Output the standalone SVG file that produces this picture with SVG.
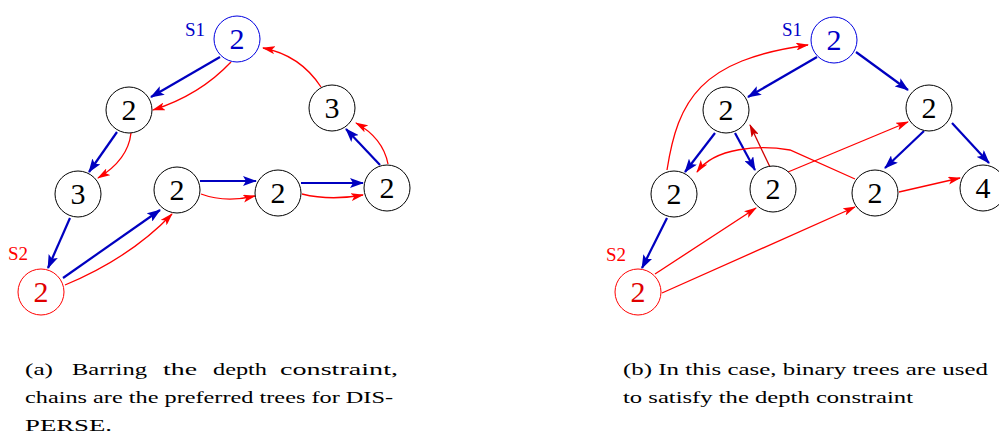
<svg xmlns="http://www.w3.org/2000/svg" width="999" height="437" viewBox="0 0 999 437">
<style>
.n{fill:#fff;stroke:#000;stroke-width:1}
.s1{fill:#fff;stroke:#0000e0;stroke-width:1}
.s2{fill:#fff;stroke:#ff0000;stroke-width:1}
.t{font-family:"Liberation Serif","Times New Roman",serif;font-size:30px;text-anchor:middle;fill:#000}
.tb{fill:#0000c8}
.tr{fill:#e00000}
.lb{font-family:"Liberation Serif","Times New Roman",serif;font-size:19px;fill:#0000c8}
.lr{font-family:"Liberation Serif","Times New Roman",serif;font-size:19px;fill:#ff0000}
.b{fill:none;stroke:#0000c0;stroke-width:2.2;marker-end:url(#ab)}
.r{fill:none;stroke:#ff0000;stroke-width:1.3;marker-end:url(#ar)}
.rd{fill:none;stroke:#d00000;stroke-width:1.3;marker-end:url(#ard)}
.cap{font-family:"Liberation Serif","Times New Roman",serif;font-size:17.5px;fill:#000}
</style>
<defs>
<marker id="ab" viewBox="0 0 14 10" refX="13" refY="5" markerWidth="14" markerHeight="10" markerUnits="userSpaceOnUse" orient="auto"><path d="M0,0 L14,5 L0,10 L3,5 z" fill="#0000c0"/></marker>
<marker id="ar" viewBox="0 0 13 8" refX="12" refY="4" markerWidth="13" markerHeight="8" markerUnits="userSpaceOnUse" orient="auto"><path d="M0,0 L13,4 L0,8 L3,4 z" fill="#ff0000"/></marker>
<marker id="ard" viewBox="0 0 13 8" refX="12" refY="4" markerWidth="13" markerHeight="8" markerUnits="userSpaceOnUse" orient="auto"><path d="M0,0 L13,4 L0,8 L3,4 z" fill="#d00000"/></marker>
</defs>

<g id="connectors">
<path class="b" d="M220,57 L151,97"/>
<path class="b" d="M117,132 L89,172"/>
<path class="b" d="M70,218 L48,268"/>
<path class="b" d="M63,278 L160,210"/>
<path class="b" d="M200,181 L256,181"/>
<path class="b" d="M301,183 L363,183"/>
<path class="b" d="M380,165 L346,129"/>
<path class="r" d="M231,62 Q200,95 153,110"/>
<path class="r" d="M131,133 Q128,160 98,178"/>
<path class="r" d="M65,285 Q130,258 172,214"/>
<path class="r" d="M201,194 Q225,203 255,196"/>
<path class="r" d="M302,194 Q330,201 363,195"/>
<path class="r" d="M388,164 Q383,138 356,123"/>
<path class="r" d="M321,87 Q300,55 263,48"/>
<path class="b" d="M817,57 L748,97"/>
<path class="b" d="M856,52 L908,90"/>
<path class="b" d="M715,133 L685,172"/>
<path class="b" d="M735,133 L755,170"/>
<path class="b" d="M924,131 L885,168"/>
<path class="b" d="M952,123 L989,163"/>
<path class="b" d="M667,218 L642,268"/>
<path class="r" d="M667,170 C678,100 700,60 808,45"/>
<path class="rd" d="M770,167 L750,125"/>
<path class="r" d="M788,172 L908,122"/>
<path class="r" d="M855,179 L790,150 C760,145 715,147 697,172"/>
<path class="r" d="M899,192 L960,178"/>
<path class="r" d="M655,274 L756,208"/>
<path class="r" d="M662,293 L855,207"/>
</g>

<g id="a-s1"><circle class="s1" cx="237" cy="39" r="23"/><text class="t tb" x="237" y="49">2</text><text class="lb" x="185" y="36">S1</text></g>
<g id="a-n1"><circle class="n" cx="129" cy="110" r="23"/><text class="t" x="129" y="120">2</text></g>
<g id="a-n2"><circle class="n" cx="78" cy="194" r="23"/><text class="t" x="78" y="204">3</text></g>
<g id="a-s2"><circle class="s2" cx="41" cy="292" r="23"/><text class="t tr" x="41" y="302">2</text><text class="lr" x="8" y="260">S2</text></g>
<g id="a-n3"><circle class="n" cx="177" cy="190" r="23"/><text class="t" x="177" y="200">2</text></g>
<g id="a-n4"><circle class="n" cx="278" cy="193" r="23"/><text class="t" x="278" y="203">2</text></g>
<g id="a-n5"><circle class="n" cx="387" cy="188" r="23"/><text class="t" x="387" y="198">2</text></g>
<g id="a-n6"><circle class="n" cx="332" cy="108" r="23"/><text class="t" x="332" y="118">3</text></g>

<g id="b-s1"><circle class="s1" cx="834" cy="40" r="23"/><text class="t tb" x="834" y="50">2</text><text class="lb" x="782" y="36">S1</text></g>
<g id="b-l"><circle class="n" cx="726" cy="110" r="23"/><text class="t" x="726" y="120">2</text></g>
<g id="b-r"><circle class="n" cx="929" cy="108" r="23"/><text class="t" x="929" y="118">2</text></g>
<g id="b-ll"><circle class="n" cx="674" cy="194" r="23"/><text class="t" x="674" y="204">2</text></g>
<g id="b-lr"><circle class="n" cx="773" cy="189" r="23"/><text class="t" x="773" y="199">2</text></g>
<g id="b-rl"><circle class="n" cx="875" cy="193" r="23"/><text class="t" x="875" y="203">2</text></g>
<g id="b-rr"><circle class="n" cx="983" cy="188" r="23"/><text class="t" x="983" y="198">4</text></g>
<g id="b-s2"><circle class="s2" cx="638" cy="292" r="23"/><text class="t tr" x="638" y="302">2</text><text class="lr" x="606" y="261">S2</text></g>

<g id="caption-a" class="cap">
<text x="25" y="375" textLength="28" lengthAdjust="spacingAndGlyphs">(a)</text>
<text x="72" y="375" textLength="75" lengthAdjust="spacingAndGlyphs">Barring</text>
<text x="163" y="375" textLength="34" lengthAdjust="spacingAndGlyphs">the</text>
<text x="213" y="375" textLength="54" lengthAdjust="spacingAndGlyphs">depth</text>
<text x="280" y="375" textLength="118" lengthAdjust="spacingAndGlyphs">constraint,</text>
<text x="25" y="403" textLength="368" lengthAdjust="spacingAndGlyphs">chains are the preferred trees for DIS-</text>
<text x="25" y="431" textLength="87" lengthAdjust="spacingAndGlyphs">PERSE.</text>
</g>
<g id="caption-b" class="cap">
<text x="623" y="375" textLength="365" lengthAdjust="spacingAndGlyphs">(b) In this case, binary trees are used</text>
<text x="623" y="403" textLength="290" lengthAdjust="spacingAndGlyphs">to satisfy the depth constraint</text>
</g>
</svg>
